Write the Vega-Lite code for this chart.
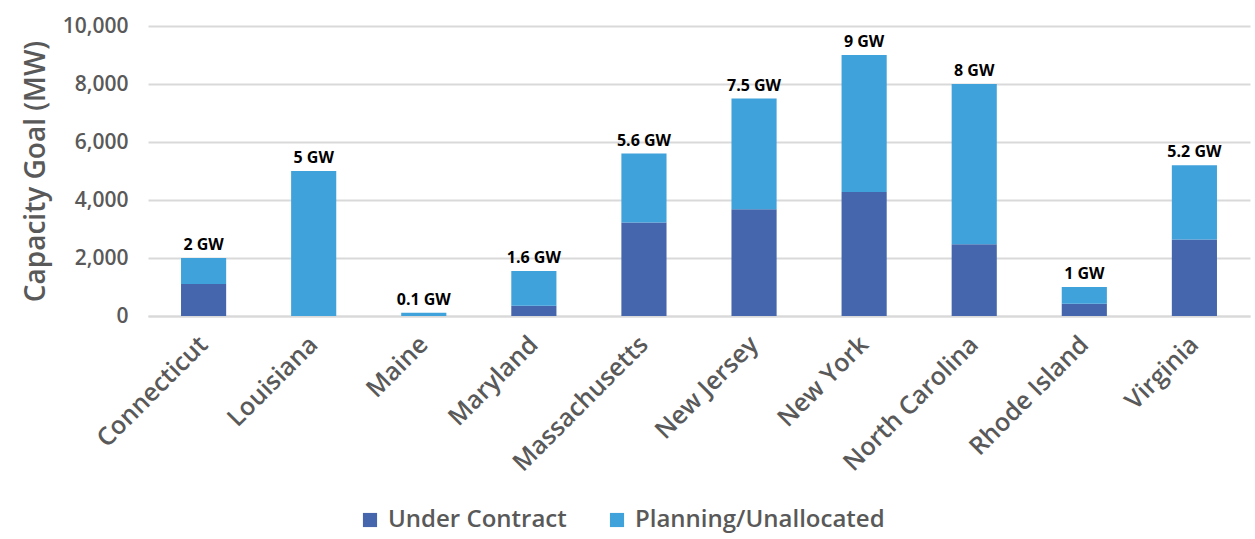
{
  "$schema": "https://vega.github.io/schema/vega-lite/v6.json",
  "width": 1102,
  "height": 290,
  "autosize": "none",
  "padding": {"left": 148, "top": 26, "right": 5, "bottom": 223},
  "background": "white",
  "config": {
    "font": "Open Sans",
    "view": {"stroke": null}
  },
  "datasets": {
    "parts": [
      {"state": "Connecticut", "category": "Under Contract", "mw": 1100},
      {"state": "Connecticut", "category": "Planning/Unallocated", "mw": 900},
      {"state": "Louisiana", "category": "Under Contract", "mw": 0},
      {"state": "Louisiana", "category": "Planning/Unallocated", "mw": 5000},
      {"state": "Maine", "category": "Under Contract", "mw": 0},
      {"state": "Maine", "category": "Planning/Unallocated", "mw": 110},
      {"state": "Maryland", "category": "Under Contract", "mw": 350},
      {"state": "Maryland", "category": "Planning/Unallocated", "mw": 1200},
      {"state": "Massachusetts", "category": "Under Contract", "mw": 3220},
      {"state": "Massachusetts", "category": "Planning/Unallocated", "mw": 2380},
      {"state": "New Jersey", "category": "Under Contract", "mw": 3680},
      {"state": "New Jersey", "category": "Planning/Unallocated", "mw": 3820},
      {"state": "New York", "category": "Under Contract", "mw": 4280},
      {"state": "New York", "category": "Planning/Unallocated", "mw": 4720},
      {"state": "North Carolina", "category": "Under Contract", "mw": 2470},
      {"state": "North Carolina", "category": "Planning/Unallocated", "mw": 5530},
      {"state": "Rhode Island", "category": "Under Contract", "mw": 420},
      {"state": "Rhode Island", "category": "Planning/Unallocated", "mw": 580},
      {"state": "Virginia", "category": "Under Contract", "mw": 2640},
      {"state": "Virginia", "category": "Planning/Unallocated", "mw": 2560}
    ],
    "totals": [
      {"state": "Connecticut", "total": 2000, "label": "2 GW"},
      {"state": "Louisiana", "total": 5000, "label": "5 GW"},
      {"state": "Maine", "total": 110, "label": "0.1 GW"},
      {"state": "Maryland", "total": 1550, "label": "1.6 GW"},
      {"state": "Massachusetts", "total": 5600, "label": "5.6 GW"},
      {"state": "New Jersey", "total": 7500, "label": "7.5 GW"},
      {"state": "New York", "total": 9000, "label": "9 GW"},
      {"state": "North Carolina", "total": 8000, "label": "8 GW"},
      {"state": "Rhode Island", "total": 1000, "label": "1 GW"},
      {"state": "Virginia", "total": 5200, "label": "5.2 GW"}
    ]
  },
  "layer": [
    {
      "data": {"name": "parts"},
      "mark": {"type": "bar"},
      "encoding": {
        "x": {
          "field": "state",
          "type": "nominal",
          "sort": null,
          "scale": {"paddingInner": 0.59, "paddingOuter": 0.3},
          "axis": {
            "title": null,
            "labelAngle": -45,
            "labelAlign": "right",
            "labelBaseline": "middle",
            "labelFontSize": 25,
            "labelColor": "#595959",
            "labelFontWeight": 600,
            "labelPadding": 24,
            "labelLimit": 400,
            "ticks": false,
            "domain": true,
            "domainColor": "#d9d9d9",
            "domainWidth": 2
          }
        },
        "y": {
          "field": "mw",
          "type": "quantitative",
          "stack": "zero",
          "scale": {"domain": [0, 10000]},
          "axis": {
            "title": "Capacity Goal (MW)",
            "titleFontSize": 28,
            "titleColor": "#595959",
            "titleFontWeight": 600,
            "titlePadding": 12,
            "values": [0, 2000, 4000, 6000, 8000, 10000],
            "format": ",d",
            "labelFontSize": 21,
            "labelColor": "#595959",
            "labelFontWeight": 600,
            "labelPadding": 20,
            "ticks": false,
            "domain": false,
            "gridColor": "#d9d9d9",
            "gridWidth": 2
          }
        },
        "color": {
          "field": "category",
          "type": "nominal",
          "sort": ["Under Contract", "Planning/Unallocated"],
          "scale": {
            "domain": ["Under Contract", "Planning/Unallocated"],
            "range": ["#4565ad", "#3fa2db"]
          },
          "legend": {
            "title": null,
            "orient": "none",
            "legendX": 210,
            "legendY": 482,
            "direction": "horizontal",
            "symbolType": "square",
            "symbolSize": 200,
            "symbolStrokeWidth": 0,
            "labelFontSize": 24,
            "labelColor": "#595959",
            "labelFontWeight": 600,
            "labelLimit": 400,
            "columnPadding": 38,
            "labelOffset": 6
          }
        },
        "order": {"field": "category", "sort": "descending"}
      }
    },
    {
      "data": {"name": "totals"},
      "mark": {"type": "text", "dy": -13, "fontSize": 16, "fontWeight": "bold", "color": "#000000"},
      "encoding": {
        "x": {"field": "state", "type": "nominal", "sort": null},
        "y": {"field": "total", "type": "quantitative"},
        "text": {"field": "label"}
      }
    }
  ]
}
